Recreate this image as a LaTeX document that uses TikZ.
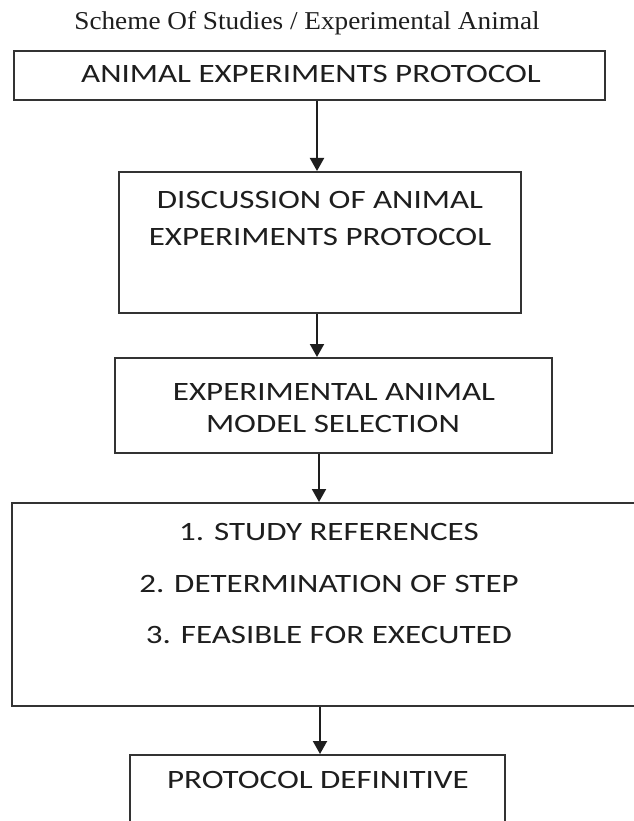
\documentclass[tikz,border=0pt]{standalone}
\usepackage{fontspec}
\usetikzlibrary{arrows.meta}
\newfontfamily\boxfont[FakeStretch=1.245]{Carlito}
\newfontfamily\titlefont[FakeStretch=1.06]{Liberation Serif}
\definecolor{ink}{HTML}{1E1E1E}
\definecolor{edge}{HTML}{333333}
\begin{document}
\begin{tikzpicture}[x=1pt,y=-1pt,
  box/.style={draw=edge,line width=2pt,rectangle,inner sep=0pt},
  lbl/.style={anchor=base,inner sep=0pt,text=ink,font=\boxfont\fontsize{26.5}{30}\selectfont},
  ttl/.style={anchor=base,inner sep=0pt,text=ink,font=\titlefont\fontsize{25.7}{30}\selectfont},
  arr/.style={draw=ink,line width=2pt,-{Triangle[width=14pt,length=13pt]}}]
\fill[white] (0,0) rectangle (633,821);
\useasboundingbox (0,0) rectangle (633,821);
% title
\node[ttl] (title) at (307,30) {Scheme Of Studies / Experimental Animal};
% boxes
\node[box,minimum width=591pt,minimum height=49pt] (b1) at (309.5,75.5) {};
\node[box,minimum width=402pt,minimum height=141pt] (b2) at (320,242.5) {};
\node[box,minimum width=437pt,minimum height=95pt] (b3) at (333.5,405.5) {};
\node[box,minimum width=640pt,minimum height=203pt] (b4) at (332,604.5) {};
\node[box,minimum width=375pt,minimum height=105pt] (b5) at (317.5,807.5) {};
% texts
\node[lbl] (t1) at (311,83) {ANIMAL EXPERIMENTS PROTOCOL};
\node[lbl] (t2a) at (320,208.5) {DISCUSSION OF ANIMAL};
\node[lbl] (t2b) at (320,245) {EXPERIMENTS PROTOCOL};
\node[lbl] (t3a) at (334,400) {EXPERIMENTAL ANIMAL};
\node[lbl] (t3b) at (333,432) {MODEL SELECTION};
\node[lbl] (t4a) at (329,540) {1. STUDY REFERENCES};
\node[lbl] (t4b) at (329,592) {2. DETERMINATION OF STEP};
\node[lbl] (t4c) at (329,643) {3. FEASIBLE FOR EXECUTED};
\node[lbl] (t5) at (318,788) {PROTOCOL DEFINITIVE};
% arrows
\coordinate (x1) at (317,0);
\coordinate (x2) at (317,0);
\coordinate (x3) at (319,0);
\coordinate (x4) at (320,0);
\draw[arr] (b1.south -| x1) -- (b2.north -| x1);
\draw[arr] (b2.south -| x2) -- (b3.north -| x2);
\draw[arr] (b3.south -| x3) -- (b4.north -| x3);
\draw[arr] (b4.south -| x4) -- (b5.north -| x4);
\end{tikzpicture}
\end{document}
